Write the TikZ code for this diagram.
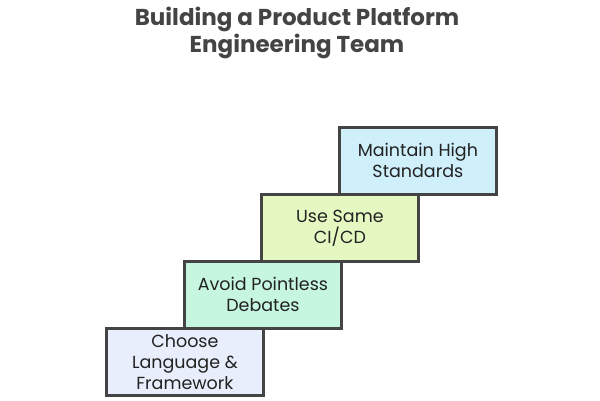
\documentclass[tikz,border=0pt]{standalone}
\usepackage{fontspec}
\setmainfont{Poppins}
\definecolor{edge}{HTML}{444444}
\definecolor{txt}{HTML}{222222}
\definecolor{fa}{HTML}{E8EEFB}
\definecolor{fb}{HTML}{C6F6DF}
\definecolor{fc}{HTML}{E6F8C2}
\definecolor{fd}{HTML}{CFEFFB}
\tikzset{
  stepbox/.style={draw=edge, line width=2.8pt, minimum width=157pt, minimum height=67pt,
    inner sep=1pt, align=center, text=txt, font=\fontsize{17.5}{21}\selectfont, anchor=north west},
  titletext/.style={align=center, text=edge, font=\fontsize{23}{27}\selectfont\bfseries}
}
\begin{document}
\begin{tikzpicture}[x=1pt,y=-1pt]
\useasboundingbox (0,0) rectangle (600,400);
\node[titletext] (title) at (297,33) {Building a Product Platform\\Engineering Team};
\node[stepbox, fill=fd] (s4) at (338,126) {Maintain High\\Standards};
\node[stepbox, fill=fc] (s3) at (260,193) {Use Same\\CI/CD};
\node[stepbox, fill=fb] (s2) at (183,260) {Avoid Pointless\\Debates};
\node[stepbox, fill=fa] (s1) at (105,327) {Choose\\Language \&\\Framework};
\end{tikzpicture}
\end{document}
